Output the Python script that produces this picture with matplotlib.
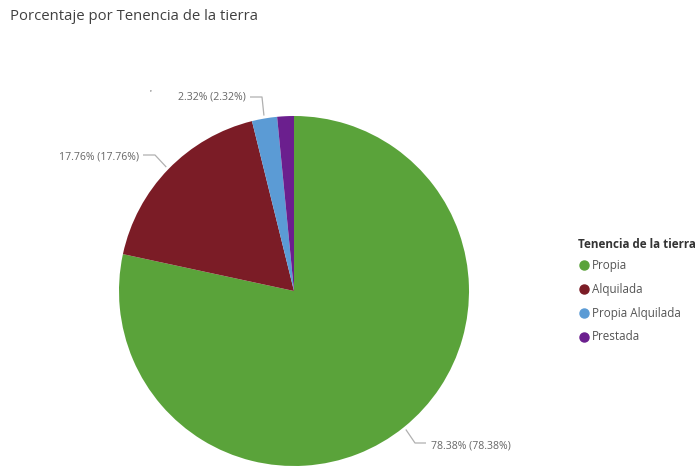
import numpy as np
import matplotlib.pyplot as plt

# ------- DATA -------
categories = ["Propia", "Alquilada", "Propia Alquilada", "Prestada"]
values = [78.38, 17.76, 2.32, 1.54]
colors = ["#5aa33a", "#7b1c26", "#5b9bd5", "#6b1f8e"]
title = "Porcentaje por Tenencia de la tierra"
legend_title = "Tenencia de la tierra"

plt.rcParams['font.family'] = ['Open Sans', 'DejaVu Sans']

W, H = 696, 468
fig = plt.figure(figsize=(W / 100, H / 100), dpi=100)
ax = fig.add_axes([0, 0, 1, 1])

cx, cy, r = 294, H - 291, 175
wedges, _ = ax.pie(values, colors=colors, startangle=90, counterclock=False,
                   center=(cx, cy), radius=r, frame=True,
                   wedgeprops=dict(linewidth=0))
ax.set_xlim(0, W)
ax.set_ylim(0, H)
ax.set_aspect('equal')
ax.axis('off')

# ------- labels with leader lines -------
gray = "#b0b0b0"
txtc = "#666666"
# (index, elbow point, end point, text anchor, ha)
label_spec = [
    (0, (415, 443), (426, 443), (431, 446), 'left'),
    (1, (155, 155), (143, 155), (139, 157), 'right'),
    (2, (262, 97), (250, 97), (246, 97), 'right'),
]
for i, elbow, end, tpos, ha in label_spec:
    w = wedges[i]
    ang = np.deg2rad((w.theta1 + w.theta2) / 2)
    sx = cx + (r + 3) * np.cos(ang)
    sy = cy + (r + 3) * np.sin(ang)
    ax.plot([sx, elbow[0], end[0]], [sy, H - elbow[1], H - end[1]],
            color=gray, lw=0.9, solid_capstyle='butt')
    ax.text(tpos[0], H - tpos[1], f"{values[i]:.2f}% ({values[i]:.2f}%)",
            ha=ha, va='center', fontsize=7.6, color=txtc)

ax.text(150, H - 93, "'", fontsize=6, color="#333333", ha='center', va='center')

# ------- title -------
fig.text(10 / W, 1 - 16 / H, title, fontsize=10.7, color="#404040",
         ha='left', va='center')

# ------- legend -------
fig.text(578 / W, 1 - 245 / H, legend_title, fontsize=8.4, fontweight='bold',
         color="#333333", ha='left', va='center')
for k, (cat, col) in enumerate(zip(categories, colors)):
    y = 265 + 24 * k
    ax.plot([584], [H - y], 'o', color=col, markersize=6.5)
    ax.text(592, H - y, cat, fontsize=8.4, color="#555555", ha='left', va='center')

fig.savefig("out.png", dpi=100)
